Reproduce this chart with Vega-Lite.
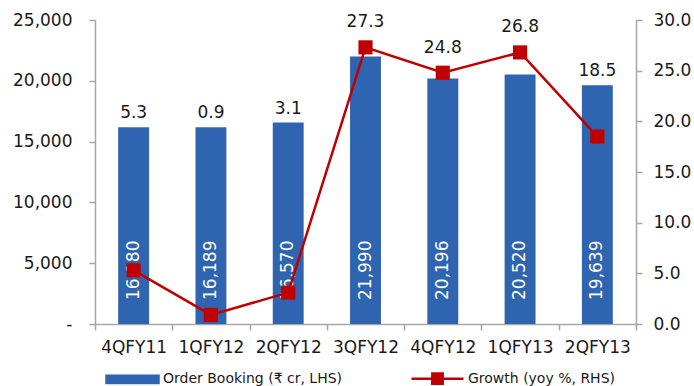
{
  "$schema": "https://vega.github.io/schema/vega-lite/v6.json",
  "width": 541,
  "height": 304,
  "autosize": {"type": "none"},
  "padding": {"left": 95, "top": 20, "right": 58, "bottom": 62},
  "background": "white",
  "config": {
    "view": {"stroke": null},
    "font": "DejaVu Sans",
    "axis": {
      "labelFont": "DejaVu Sans",
      "labelFontSize": 17,
      "labelColor": "#1a1a1a",
      "domainColor": "#a6a6a6",
      "domainWidth": 1.5,
      "tickColor": "#a6a6a6",
      "tickWidth": 1.5,
      "tickSize": 6,
      "grid": false,
      "title": null
    }
  },
  "data": {
    "values": [
      {"q": "4QFY11", "booking": 16180, "growth": 5.3},
      {"q": "1QFY12", "booking": 16189, "growth": 0.9},
      {"q": "2QFY12", "booking": 16570, "growth": 3.1},
      {"q": "3QFY12", "booking": 21990, "growth": 27.3},
      {"q": "4QFY12", "booking": 20196, "growth": 24.8},
      {"q": "1QFY13", "booking": 20520, "growth": 26.8},
      {"q": "2QFY13", "booking": 19639, "growth": 18.5}
    ]
  },
  "encoding": {
    "x": {
      "field": "q",
      "type": "nominal",
      "sort": null,
      "scale": {"paddingInner": 0, "paddingOuter": 0},
      "axis": {"labelAngle": 0, "tickBand": "extent", "labelPadding": 9, "title": null}
    }
  },
  "layer": [
    {
      "encoding": {
        "y": {
          "field": "booking",
          "type": "quantitative",
          "scale": {"domain": [0, 25000], "nice": false},
          "axis": {
            "orient": "left",
            "values": [0, 5000, 10000, 15000, 20000, 25000],
            "labelExpr": "datum.value == 0 ? '-' : format(datum.value, ',')",
            "labelPadding": 17,
            "title": null
          }
        }
      },
      "layer": [
        {
          "mark": {"type": "bar", "width": {"band": 0.4}},
          "encoding": {
            "color": {
              "datum": "Order Booking (₹ cr, LHS)",
              "scale": {
                "domain": ["Order Booking (₹ cr, LHS)", "Growth (yoy %, RHS)"],
                "range": ["#2E64B0", "#C00000"]
              },
              "legend": {
                "orient": "none",
                "legendX": 10,
                "legendY": 331,
                "direction": "horizontal",
                "title": null,
                "labelFont": "DejaVu Sans",
                "labelFontSize": 14,
                "labelColor": "#1a1a1a",
                "labelLimit": 400,
                "symbolSize": 2704,
                "symbolStrokeWidth": 2.5,
                "labelOffset": 3,
                "columnPadding": 63,
                "encode": {
                  "symbols": {
                    "update": {
                      "shape": {"signal": "datum.value == 'Order Booking (₹ cr, LHS)' ? 'M-1,-0.14H1V0.14H-1Z' : 'M-1,0H1M-0.2,-0.2H0.2V0.2H-0.2Z'"},
                      "fill": {"signal": "datum.value == 'Order Booking (₹ cr, LHS)' ? '#2E64B0' : '#C00000'"},
                      "stroke": {"signal": "datum.value == 'Order Booking (₹ cr, LHS)' ? 'transparent' : '#C00000'"},
                      "strokeWidth": {"value": 2.5},
                      "size": {"value": 2704},
                      "opacity": {"value": 1},
                      "fillOpacity": {"value": 1},
                      "strokeOpacity": {"value": 1}
                    }
                  }
                }
              }
            }
          }
        },
        {
          "mark": {"type": "text", "angle": 270, "align": "left", "baseline": "middle", "dx": 24, "color": "white", "fontSize": 17, "font": "DejaVu Sans"},
          "encoding": {
            "y": {"datum": 0},
            "text": {"field": "booking", "type": "quantitative", "format": ","}
          }
        },
        {
          "transform": [{"filter": "datum.growth / 30 <= datum.booking / 25000"}],
          "mark": {"type": "text", "align": "center", "baseline": "alphabetic", "dy": -9, "color": "#1a1a1a", "fontSize": 17, "font": "DejaVu Sans"},
          "encoding": {
            "text": {"field": "growth", "type": "quantitative", "format": ".1f"}
          }
        }
      ]
    },
    {
      "encoding": {
        "y": {
          "field": "growth",
          "type": "quantitative",
          "scale": {"domain": [0, 30], "nice": false},
          "axis": {
            "orient": "right",
            "values": [0, 5, 10, 15, 20, 25, 30],
            "format": ".1f",
            "labelPadding": 11,
            "title": null
          }
        }
      },
      "layer": [
        {
          "mark": {"type": "line", "color": "#C00000", "strokeWidth": 2.5},
          "encoding": {"color": {"datum": "Growth (yoy %, RHS)"}}
        },
        {
          "mark": {"type": "point", "shape": "square", "filled": true, "size": 200, "opacity": 1},
          "encoding": {"color": {"datum": "Growth (yoy %, RHS)"}}
        },
        {
          "transform": [{"filter": "datum.growth / 30 > datum.booking / 25000"}],
          "mark": {"type": "text", "align": "center", "baseline": "alphabetic", "dy": -20, "color": "#1a1a1a", "fontSize": 17, "font": "DejaVu Sans"},
          "encoding": {
            "text": {"field": "growth", "type": "quantitative", "format": ".1f"}
          }
        }
      ]
    }
  ],
  "resolve": {"scale": {"y": "independent"}}
}
